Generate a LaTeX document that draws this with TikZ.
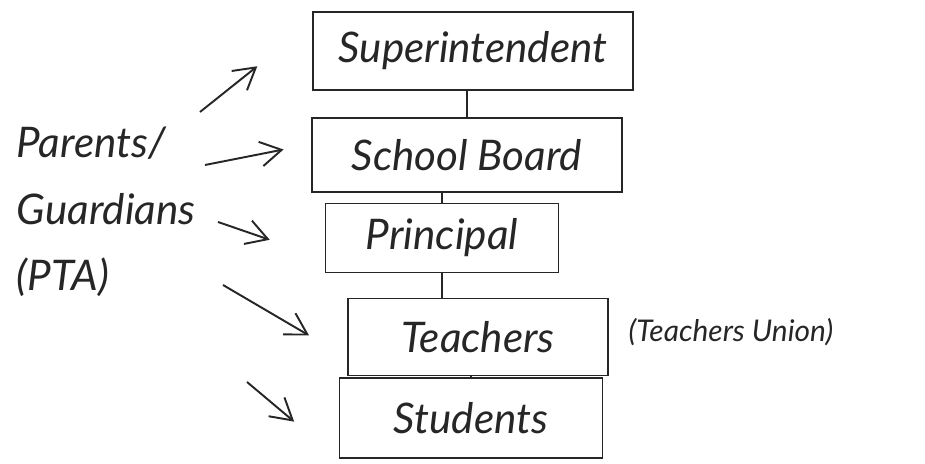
\documentclass[tikz,border=0pt]{standalone}
\usepackage{fontspec}
\setmainfont{Lato}
\usetikzlibrary{arrows.meta}
\tikzset{
	orgbox/.style={draw,line width=1.1pt,inner sep=0pt,font=\fontsize{24}{28}\selectfont\itshape},
	arr/.style={line width=1.1pt,-{Straight Barb[length=12pt,width=14pt]}},
}

\begin{document}
\begin{tikzpicture}[line width=1.1pt,color=black!85]
	\useasboundingbox (0,0) rectangle (18.5,9.28);
	\node[orgbox,minimum width=6.4cm,minimum height=1.56cm] (sup) at (9.46,8.26) {Superintendent};
	\node[orgbox,minimum width=6.2cm,minimum height=1.48cm] (board) at (9.34,6.18) {School Board};
	\node[orgbox,minimum width=4.66cm,minimum height=1.38cm] (prin) at (8.84,4.52) {Principal};
	\node[orgbox,minimum width=5.2cm,minimum height=1.54cm] (teach) at (9.56,2.54) {Teachers};
	\node[orgbox,minimum width=5.26cm,minimum height=1.6cm] (stud) at (9.42,0.92) {Students};
	\node[right,align=left,font=\fontsize{24}{38}\selectfont\itshape] (pta) at (0.2,5.04) {Parents/\\Guardians\\(PTA)};
	\node[font=\fontsize{17}{20}\selectfont\itshape] (union) at (14.62,2.64) {(Teachers Union)};
	% chain of command
	\draw (board.north) -- (board.north |- sup.south);
	\draw (prin.north) -- (prin.north |- board.south);
	\draw (prin.south) -- (prin.south |- teach.north);
	\draw (stud.north) -- (stud.north |- teach.south);
	% parents to each level
	\coordinate (g1) at (4.0,7.04);
	\coordinate (g2) at (4.1,5.98);
	\coordinate (g3) at (4.36,4.84);
	\coordinate (g4) at (4.46,3.58);
	\coordinate (g5) at (4.94,1.64);
	\draw[arr,shorten >=1.4cm] (g1) -- (sup.170);
	\draw[arr,shorten >=0.56cm] (g2) -- (board.176);
	\draw[arr,shorten >=1.16cm] (g3) -- (prin.190);
	\draw[arr,shorten >=0.88cm] (g4) -- (teach.189);
	\draw[arr,shorten >=1.16cm] (g5) -- (stud.south west);
\end{tikzpicture}
\end{document}
